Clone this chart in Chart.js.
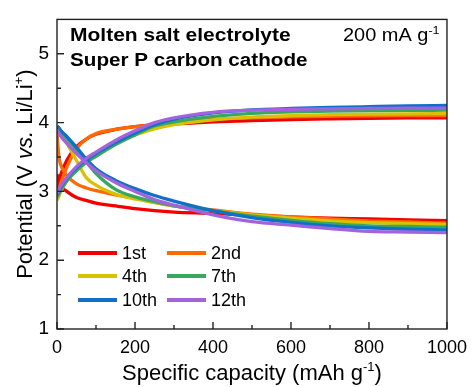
<!DOCTYPE html>
<html>
<head>
<meta charset="utf-8">
<script src="https://cdn.jsdelivr.net/npm/chart.js@4.4.1/dist/chart.umd.min.js"></script>
<style>
  html, body { margin: 0; padding: 0; background: #fff; }
  #wrap { width: 475px; height: 387px; }
</style>
</head>
<body>
<div id="wrap"><canvas id="chart"></canvas></div>
<script>
// capacity grid (mAh g-1) shared by all curves
const capacity = [0, 5, 10, 25, 50, 75, 100, 150, 200, 250, 300, 400, 500, 600, 700, 800, 900, 1000];

const cycleLabels = ["1st", "2nd", "4th", "7th", "10th", "12th"];
const cycleColors = ["#f20000", "#ff6a00", "#d8c200", "#38a860", "#1070c8", "#a263dc"];

// charge curves (V)
const charge1st  = [3.00, 3.13, 3.25, 3.45, 3.65, 3.76, 3.83, 3.90, 3.94, 3.965, 3.98, 4.01, 4.03, 4.045, 4.055, 4.063, 4.068, 4.07];
const charge2nd  = [2.95, 3.03, 3.12, 3.35, 3.62, 3.76, 3.84, 3.90, 3.94, 3.97, 3.995, 4.045, 4.07, 4.085, 4.093, 4.098, 4.10, 4.10];
const charge4th  = [2.87, 2.93, 3.00, 3.15, 3.32, 3.44, 3.54, 3.70, 3.82, 3.91, 3.97, 4.04, 4.08, 4.10, 4.115, 4.123, 4.128, 4.13];
const charge7th  = [2.92, 2.97, 3.02, 3.15, 3.30, 3.42, 3.51, 3.68, 3.82, 3.95, 4.01, 4.09, 4.135, 4.155, 4.167, 4.174, 4.178, 4.18];
const charge10th = [2.95, 3.00, 3.06, 3.19, 3.34, 3.46, 3.55, 3.71, 3.85, 3.97, 4.05, 4.14, 4.185, 4.205, 4.22, 4.232, 4.243, 4.25];
const charge12th = [2.97, 3.02, 3.08, 3.20, 3.36, 3.48, 3.57, 3.74, 3.88, 4.00, 4.07, 4.15, 4.18, 4.193, 4.20, 4.205, 4.21, 4.21];

// discharge curves (V)
const discharge1st  = [3.25, 3.12, 3.07, 3.00, 2.91, 2.87, 2.83, 2.79, 2.75, 2.72, 2.70, 2.68, 2.65, 2.63, 2.61, 2.60, 2.585, 2.575];
const discharge2nd  = [3.85, 3.50, 3.38, 3.23, 3.11, 3.05, 3.01, 2.95, 2.90, 2.84, 2.79, 2.73, 2.67, 2.63, 2.60, 2.57, 2.555, 2.54];
const discharge4th  = [3.95, 3.90, 3.84, 3.70, 3.45, 3.20, 3.09, 2.96, 2.89, 2.84, 2.79, 2.72, 2.66, 2.61, 2.57, 2.545, 2.53, 2.52];
const discharge7th  = [3.95, 3.92, 3.88, 3.77, 3.61, 3.43, 3.26, 3.03, 2.92, 2.85, 2.79, 2.72, 2.64, 2.58, 2.53, 2.50, 2.49, 2.48];
const discharge10th = [3.95, 3.92, 3.88, 3.80, 3.64, 3.47, 3.33, 3.16, 3.04, 2.94, 2.86, 2.72, 2.62, 2.55, 2.50, 2.47, 2.45, 2.44];
const discharge12th = [3.90, 3.85, 3.80, 3.70, 3.55, 3.42, 3.30, 3.13, 3.00, 2.88, 2.80, 2.66, 2.56, 2.51, 2.46, 2.42, 2.41, 2.40];

const chargeCurves = [charge1st, charge2nd, charge4th, charge7th, charge10th, charge12th];
const dischargeCurves = [discharge1st, discharge2nd, discharge4th, discharge7th, discharge10th, discharge12th];

const FONT = '"Liberation Sans", Arial, Helvetica, sans-serif';

const toPoints = (vals) => vals.map((v, i) => ({ x: capacity[i], y: v }));

const datasets = [];
cycleLabels.forEach((label, i) => {
    const common = {
        borderColor: cycleColors[i],
        backgroundColor: cycleColors[i],
        borderWidth: 3.3,
        pointRadius: 0,
        fill: false,
        cubicInterpolationMode: 'monotone',
        order: 20 - i   // later cycles on top
    };
    datasets.push(Object.assign({ label: label, data: toPoints(chargeCurves[i]), isLegend: true }, common));
    datasets.push(Object.assign({ label: label + " discharge", data: toPoints(dischargeCurves[i]) }, common));
});

// draw a line of text made of several styled pieces, optional horizontal stretch
function drawRich(ctx, parts, x, y, align, sx) {
    sx = sx || 1;
    let w = 0;
    parts.forEach(p => { ctx.font = p.font; w += ctx.measureText(p.t).width; });
    ctx.save();
    ctx.translate(x, y);
    ctx.scale(sx, 1);
    let cx = align === 'center' ? -w / 2 : 0;
    parts.forEach(p => {
        ctx.font = p.font;
        ctx.fillText(p.t, cx, -(p.rise || 0));
        cx += ctx.measureText(p.t).width;
    });
    ctx.restore();
}

const decor = {
    id: 'decor',
    afterDraw(chart) {
        const ctx = chart.ctx;
        const a = chart.chartArea;
        const xs = chart.scales.x, ys = chart.scales.y;
        ctx.save();

        // frame
        ctx.strokeStyle = '#222';
        ctx.lineWidth = 1.4;
        ctx.strokeRect(a.left, a.top, a.right - a.left, a.bottom - a.top);

        // inward ticks, major + minor halfway
        ctx.beginPath();
        const xt = xs.ticks.map(t => t.value);
        xt.forEach((v, i) => {
            const px = xs.getPixelForValue(v);
            ctx.moveTo(px, a.bottom); ctx.lineTo(px, a.bottom - 7);
            if (i < xt.length - 1) {
                const mx = xs.getPixelForValue((v + xt[i + 1]) / 2);
                ctx.moveTo(mx, a.bottom); ctx.lineTo(mx, a.bottom - 4);
            }
        });
        const yt = ys.ticks.map(t => t.value);
        yt.forEach((v, i) => {
            const py = ys.getPixelForValue(v);
            ctx.moveTo(a.left, py); ctx.lineTo(a.left + 7, py);
            const next = i < yt.length - 1 ? yt[i + 1] : v + 1;
            const my = ys.getPixelForValue((v + next) / 2);
            if (my > a.top + 1) { ctx.moveTo(a.left, my); ctx.lineTo(a.left + 4, my); }
        });
        ctx.stroke();

        ctx.fillStyle = '#000';
        ctx.textBaseline = 'alphabetic';

        // x axis title
        const tf = '22px ' + FONT, sf = '13px ' + FONT;
        drawRich(ctx, [
            { t: 'Specific capacity (mAh g', font: tf },
            { t: '-1', font: sf, rise: 9 },
            { t: ')', font: tf }
        ], (a.left + a.right) / 2, 380, 'center');

        // y axis title
        ctx.save();
        ctx.translate(32, (a.top + a.bottom) / 2);
        ctx.rotate(-Math.PI / 2);
        drawRich(ctx, [
            { t: 'Potential (V ', font: tf },
            { t: 'vs.', font: 'italic 22px ' + FONT },
            { t: ' Li/Li', font: tf },
            { t: '+', font: sf, rise: 9 },
            { t: ')', font: tf }
        ], 0, 0, 'center');
        ctx.restore();

        // annotations
        drawRich(ctx, [{ t: 'Molten salt electrolyte', font: 'bold 17.5px ' + FONT }], 70, 41, 'left', 1.2);
        drawRich(ctx, [{ t: 'Super P carbon cathode', font: 'bold 17.5px ' + FONT }], 70, 66, 'left', 1.18);
        drawRich(ctx, [
            { t: '200 mA g', font: '17.5px ' + FONT },
            { t: '-1', font: '11px ' + FONT, rise: 7 }
        ], 343, 41, 'left', 1.14);

        // legend: 2 columns x 3 rows
        const cols = [78, 167], rows = [253, 276, 300];
        ctx.font = '18px ' + FONT;
        ctx.textBaseline = 'middle';
        ctx.lineWidth = 4;
        chart.data.datasets.filter(d => d.isLegend).forEach((d, i) => {
            const x0 = cols[i % 2], y0 = rows[Math.floor(i / 2)];
            ctx.strokeStyle = d.borderColor;
            ctx.beginPath(); ctx.moveTo(x0, y0); ctx.lineTo(x0 + 39, y0); ctx.stroke();
            ctx.fillStyle = '#000';
            ctx.fillText(d.label, x0 + 44, y0 + 1);
        });
        ctx.restore();
    }
};

new Chart(document.getElementById('chart'), {
    type: 'line',
    data: { datasets: datasets },
    options: {
        responsive: true,
        maintainAspectRatio: false,
        animation: false,
        layout: { padding: { top: 14, right: 25, left: 0, bottom: 0 } },
        plugins: { legend: { display: false }, tooltip: { enabled: false } },
        scales: {
            x: {
                type: 'linear', min: 0, max: 1000,
                grid: { display: false, drawTicks: false },
                border: { display: false },
                ticks: {
                    stepSize: 200, padding: 8, color: '#000', maxRotation: 0,
                    font: { family: FONT, size: 18 },
                    callback: (v) => String(v)
                },
                afterFit: (s) => { s.height = 58; }
            },
            y: {
                min: 1, max: 5.5,
                grid: { display: false, drawTicks: false },
                border: { display: false },
                ticks: { stepSize: 1, includeBounds: false, padding: 8, color: '#000', font: { family: FONT, size: 19 } },
                afterFit: (s) => { s.width = 57; }
            }
        }
    },
    plugins: [decor]
});
</script>
</body>
</html>
